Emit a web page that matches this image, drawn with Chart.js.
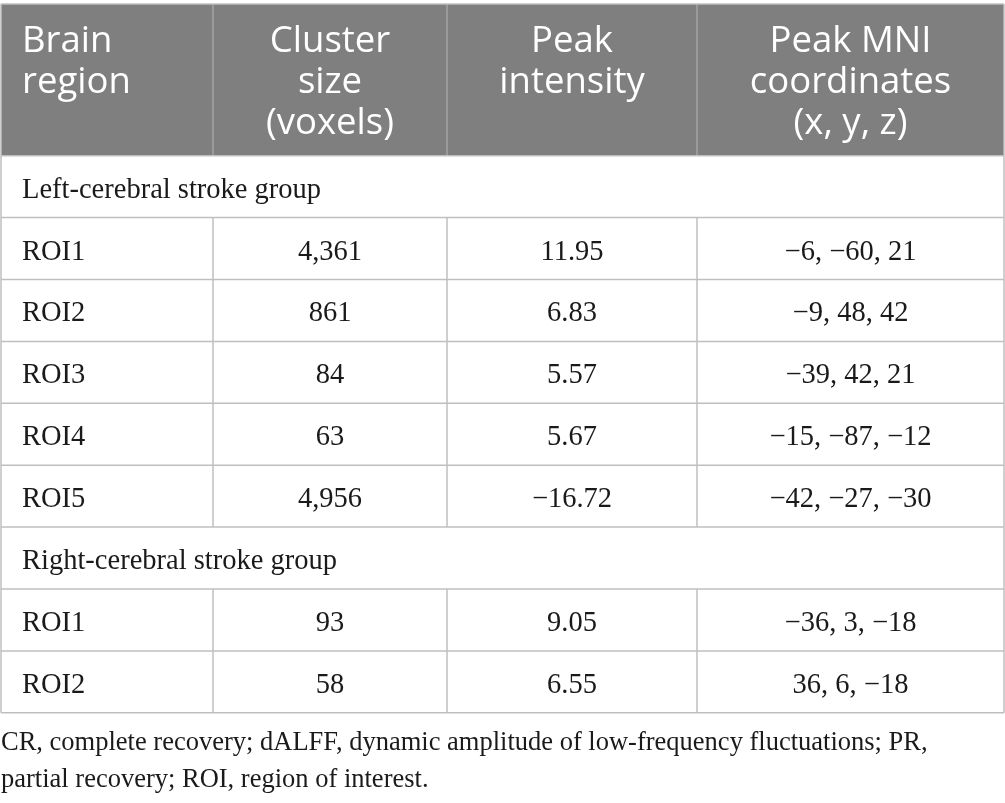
<!DOCTYPE html>
<html>
<head>
<meta charset="utf-8">
<script src="https://cdn.jsdelivr.net/npm/chart.js@4.4.1/dist/chart.umd.min.js"></script>
<style>
  html, body { margin: 0; padding: 0; background: #ffffff; }
  #wrap { width: 1005px; height: 803px; position: relative; }
</style>
</head>
<body>
<div id="wrap"><canvas id="c"></canvas></div>
<script>
// ---- data ----
const headerLines = [
  ["Brain", "region"],
  ["Cluster", "size", "(voxels)"],
  ["Peak", "intensity"],
  ["Peak MNI", "coordinates", "(x, y, z)"]
];
const groupLabels = ["Left-cerebral stroke group", "Right-cerebral stroke group"];
const regions = ["ROI1", "ROI2", "ROI3", "ROI4", "ROI5", "ROI1", "ROI2"];
const regionGroup = [0, 0, 0, 0, 0, 1, 1];
const clusterSize = [4361, 861, 84, 63, 4956, 93, 58];
const peakIntensity = [11.95, 6.83, 5.57, 5.67, -16.72, 9.05, 6.55];
const mniX = [-6, -9, -39, -15, -42, -36, 36];
const mniY = [-60, 48, 42, -87, -27, 3, 6];
const mniZ = [21, 42, 21, -12, -30, -18, -18];
const footnote = [
  "CR, complete recovery; dALFF, dynamic amplitude of low-frequency fluctuations; PR,",
  "partial recovery; ROI, region of interest."
];

// ---- helpers ----
const minus = s => String(s).replace(/-/g, "\u2212");
const fmtInt = v => minus(v.toLocaleString("en-US"));
const fmtDec = v => minus(v.toFixed(2));

// build row list (group rows + region rows)
const rows = [];
groupLabels.forEach((g, gi) => {
  rows.push({ type: "group", label: g });
  regions.forEach((r, i) => {
    if (regionGroup[i] === gi) {
      rows.push({
        type: "data",
        cells: [r, fmtInt(clusterSize[i]), fmtDec(peakIntensity[i]),
                [mniX[i], mniY[i], mniZ[i]].map(minus).join(", ")]
      });
    }
  });
});

// layout (column edges in x-scale units, header height in row units)
const colEdges = [0, 212, 446, 696, 1003];
const headerRows = 2.45;

const SERIF = "'Liberation Serif', 'DejaVu Serif', serif";
const SANS = "'Open Sans', 'Noto Sans', sans-serif";

const tablePlugin = {
  id: "tablePlugin",
  beforeDatasetsDraw(chart) {
    const ctx = chart.ctx;
    const xs = chart.scales.x, ys = chart.scales.y;
    const X = v => xs.getPixelForValue(v);
    const Y = v => ys.getPixelForValue(v);
    const left = X(colEdges[0]), right = X(colEdges[colEdges.length - 1]);
    const top = Y(-headerRows - 0.5), hdrBottom = Y(-0.5);
    const bottom = Y(rows.length - 0.5);

    ctx.save();
    // header fill
    ctx.fillStyle = "#7f7f7f";
    ctx.fillRect(left, top, right - left, hdrBottom - top);

    // header separators
    ctx.strokeStyle = "#a3a3a3";
    ctx.lineWidth = 1.5;
    for (let c = 1; c < colEdges.length - 1; c++) {
      ctx.beginPath();
      ctx.moveTo(X(colEdges[c]), top);
      ctx.lineTo(X(colEdges[c]), hdrBottom);
      ctx.stroke();
    }

    // header text
    ctx.fillStyle = "#ffffff";
    ctx.font = "36.5px " + SANS;
    ctx.textBaseline = "alphabetic";
    headerLines.forEach((lines, c) => {
      lines.forEach((t, li) => {
        const yb = top + 48 + li * 41;
        if (c === 0) {
          ctx.textAlign = "left";
          ctx.fillText(t, X(colEdges[0]) + 21, yb);
        } else {
          ctx.textAlign = "center";
          ctx.fillText(t, (X(colEdges[c]) + X(colEdges[c + 1])) / 2, yb);
        }
      });
    });

    // body grid
    ctx.strokeStyle = "#bfbfbf";
    ctx.lineWidth = 1.5;
    for (let r = 0; r <= rows.length; r++) {
      const yy = Y(r - 0.5);
      ctx.beginPath();
      ctx.moveTo(left, yy);
      ctx.lineTo(right, yy);
      ctx.stroke();
    }
    // top border
    ctx.beginPath(); ctx.moveTo(left, top); ctx.lineTo(right, top); ctx.stroke();
    // outer verticals
    [left, right].forEach(xx => {
      ctx.beginPath(); ctx.moveTo(xx, top); ctx.lineTo(xx, bottom); ctx.stroke();
    });
    // inner verticals in data rows
    rows.forEach((row, r) => {
      if (row.type !== "data") return;
      for (let c = 1; c < colEdges.length - 1; c++) {
        ctx.beginPath();
        ctx.moveTo(X(colEdges[c]), Y(r - 0.5));
        ctx.lineTo(X(colEdges[c]), Y(r + 0.5));
        ctx.stroke();
      }
    });

    // body text
    ctx.fillStyle = "#1a1a1a";
    ctx.font = "28.5px " + SERIF;
    ctx.textBaseline = "alphabetic";
    rows.forEach((row, r) => {
      const yb = Y(r) + 11;
      if (row.type === "group") {
        ctx.textAlign = "left";
        ctx.fillText(row.label, left + 21, yb);
      } else {
        row.cells.forEach((t, c) => {
          if (c === 0) {
            ctx.textAlign = "left";
            ctx.fillText(t, X(colEdges[0]) + 21, yb);
          } else {
            ctx.textAlign = "center";
            ctx.fillText(t, (X(colEdges[c]) + X(colEdges[c + 1])) / 2, yb);
          }
        });
      }
    });
    ctx.restore();
  }
};

new Chart(document.getElementById("c"), {
  type: "scatter",
  data: {
    datasets: [{
      label: "rows",
      data: rows.map((row, i) => ({ x: 0, y: i })),
      pointRadius: 0,
      pointHoverRadius: 0
    }]
  },
  options: {
    responsive: true,
    maintainAspectRatio: false,
    animation: false,
    events: [],
    layout: { padding: { left: 1, right: 1, top: 4, bottom: 0 } },
    scales: {
      x: { type: "linear", min: colEdges[0], max: colEdges[colEdges.length - 1], display: false },
      y: { type: "linear", min: -headerRows - 0.5, max: rows.length - 0.5, reverse: true, display: false }
    },
    plugins: {
      legend: { display: false },
      tooltip: { enabled: false },
      title: {
        display: true,
        position: "bottom",
        align: "start",
        text: footnote,
        color: "#1a1a1a",
        font: { family: SERIF, size: 26.5, weight: "normal", lineHeight: 1.4 },
        padding: { top: 12, bottom: 4 }
      }
    }
  },
  plugins: [tablePlugin]
});
</script>
</body>
</html>
